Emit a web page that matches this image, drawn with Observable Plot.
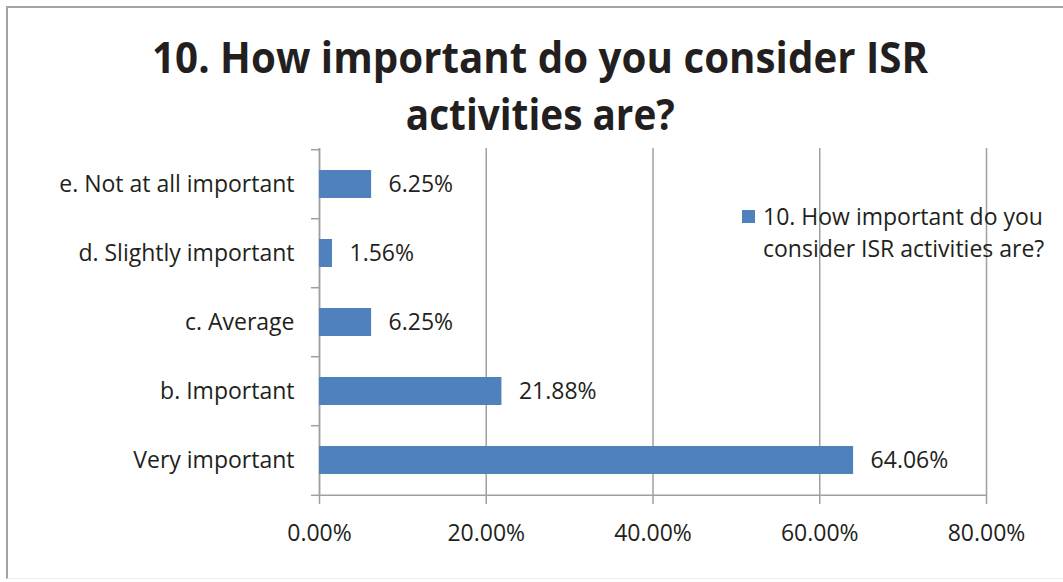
<!DOCTYPE html>
<html>
<head>
<meta charset="utf-8">
<script src="https://cdn.jsdelivr.net/npm/d3@7"></script>
<script src="https://cdn.jsdelivr.net/npm/@observablehq/plot@0.6"></script>
<style>
  html, body { margin: 0; padding: 0; background: #fff; }
  #wrap { position: relative; width: 1063px; height: 582px; overflow: hidden; font-family: "Open Sans", sans-serif; color: #231f20; }
  #border { position: absolute; left: 6px; top: 6px; width: 1100px; height: 573px; border-left: 2px solid #a3a3a5; border-top: 2px solid #a3a3a5; border-bottom: 1px solid #eeeeee; box-sizing: border-box; }
  #chart { position: absolute; left: 0; top: 0; }
  .title { position: absolute; left: 0; width: 1080px; text-align: center; font-weight: 700; font-size: 43px; line-height: 1; white-space: nowrap; color: #231f20; }
  .title span { display: inline-block; transform-origin: center; }
  #legend { position: absolute; left: 742px; top: 200px; font-size: 23px; line-height: 32px; color: #231f20; }
  #legend .sw { position: absolute; left: 0; top: 10px; width: 13px; height: 13px; background: #4f81bd; }
  #legend .txt { position: absolute; left: 21px; top: 0; white-space: nowrap; }
</style>
</head>
<body>
<div id="wrap">
  <div id="border"></div>
  <div id="chart"></div>
  <div class="title" id="t1" style="top:35px"><span>10. How important do you consider ISR</span></div>
  <div class="title" id="t2" style="top:92px"><span>activities are?</span></div>
  <div id="legend"><div class="sw"></div><div class="txt">10. How important do you<br>consider ISR activities are?</div></div>
</div>
<script>
const categories = ["e. Not at all important", "d. Slightly important", "c. Average", "b. Important", "Very important"];
const values = [6.25, 1.56, 6.25, 21.88, 64.06];
const xTicks = [0, 20, 40, 60, 80];
const seriesName = "10. How important do you consider ISR activities are?";

const data = categories.map((c, i) => ({category: c, value: values[i]}));
const axisColor = "#a0a0a0";
const fmt = d => d.toFixed(2) + "%";
const step = (582 - 148 - 86) / categories.length;

const chart = Plot.plot({
  width: 1063,
  height: 582,
  marginLeft: 319,
  marginRight: 77,
  marginTop: 148,
  marginBottom: 86,
  style: {fontFamily: "'Open Sans', sans-serif", fontSize: "23px", color: "#231f20", background: "transparent"},
  x: {domain: [0, 80], ticks: xTicks, tickFormat: fmt, label: null},
  y: {domain: categories, paddingInner: 0.6, paddingOuter: 0.3, label: null},
  marks: [
    Plot.ruleX(xTicks, {stroke: axisColor, strokeWidth: 1.5, insetBottom: -8}),
    Plot.ruleY([categories[categories.length - 1]], {y: d => d, stroke: axisColor, strokeWidth: 1.5, dy: step / 2}),
    Plot.ruleX([0], {stroke: axisColor, strokeWidth: 1.5}),
    Plot.ruleY(categories, {y: d => d, x1: 0, x2: 0, insetLeft: -8, stroke: axisColor, strokeWidth: 1.5, dy: -step / 2}),
    Plot.ruleY([categories[categories.length - 1]], {y: d => d, x1: 0, x2: 0, insetLeft: -8, stroke: axisColor, strokeWidth: 1.5, dy: step / 2}),
    Plot.barX(data, {y: "category", x: "value", fill: "#4f81bd"}),
    Plot.text(data, {y: "category", x: "value", text: d => fmt(d.value), textAnchor: "start", dx: 17, fill: "#231f20", fontSize: 23}),
    Plot.axisX({ticks: xTicks, tickFormat: fmt, tickSize: 0, tickPadding: 28, fontSize: 23, fill: "#231f20", label: null}),
    Plot.axisY({tickSize: 0, tickPadding: 25, fontSize: 23, fill: "#231f20", label: null})
  ]
});
document.getElementById("chart").appendChild(chart);

// fit title lines to the reference widths
function fit(id, target) {
  const s = document.querySelector("#" + id + " span");
  const w = s.getBoundingClientRect().width;
  s.style.transform = "scaleX(" + (target / w) + ")";
}
fit("t1", 776);
fit("t2", 269);
</script>
</body>
</html>
